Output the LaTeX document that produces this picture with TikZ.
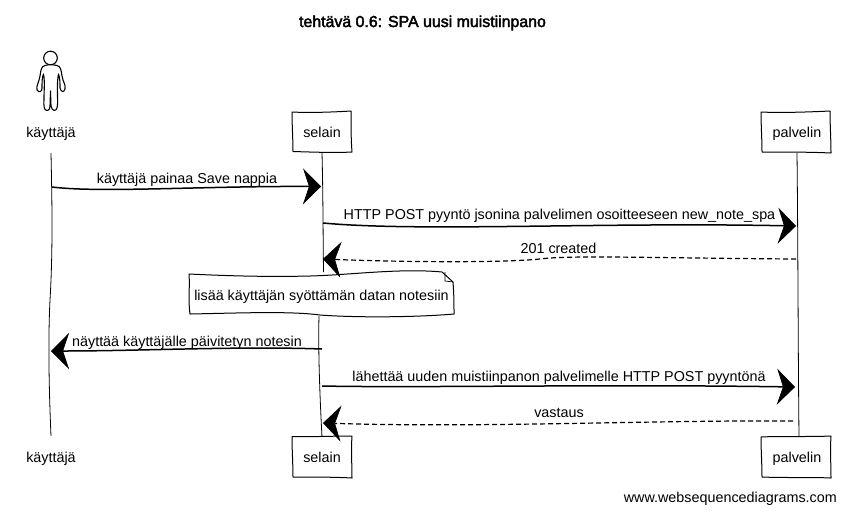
\documentclass[tikz,border=0pt]{standalone}
\usepackage{fontspec}
\setmainfont{Liberation Sans}
\newfontfamily\titlefont[FakeBold=2.5]{Liberation Sans}
\usetikzlibrary{arrows.meta}
\tikzset{
  x=1pt,y=-1pt,
  every node/.style={font=\fontsize{14.35}{16}\selectfont,inner sep=0pt,text=black},
  lbl/.style={anchor=base},
  life/.style={draw=black,line width=0.8pt},
  sketch/.style={draw=black,line width=1pt,fill=white,line join=round},
  msg/.style={draw=black,line width=1.5pt,-{Stealth[length=18pt,width=36pt,inset=6pt,line width=0.6pt]}},
  reply/.style={draw=black,line width=1.2pt,dash pattern=on 5pt off 3pt,-{Stealth[length=18pt,width=36pt,inset=6pt,line width=0.6pt]}},
  figure/.style={draw=black,line width=1.1pt,fill=white,line join=round}
}
\begin{document}
\begin{tikzpicture}
\useasboundingbox (0,0) rectangle (845,512);
% lifeline end points
\coordinate (uT) at (51,153);
\coordinate (uB) at (51,436);
\coordinate (sT) at (322,153);
\coordinate (sN) at (323.5,272);
\coordinate (sM) at (319,316);
\coordinate (sB) at (322,437);
\coordinate (pT) at (797,153);
\coordinate (pB) at (799,437);
\draw[life] (uT) .. controls (52,200) and (53,250) .. (50,300) .. controls (48,340) and (49,390) .. (uB);
\draw[life] (sT) .. controls (323,190) and (323,230) .. (sN);
\draw[life] (sM) .. controls (318,350) and (320,400) .. (sB);
\draw[life] (pT) .. controls (798,240) and (798,340) .. (pB);
% actor
\draw[figure] (50.5,58) circle (6.8);
\draw[figure] (45,65.5) .. controls (41,66.5) and (41,70) .. (40,76)
  .. controls (39,82) and (36,86) .. (37,90) .. controls (39,93) and (42,92) .. (42,88)
  .. controls (42,83) and (42,77) .. (43.5,74) .. controls (45,82) and (44,90) .. (44,98)
  .. controls (44,102) and (43.5,107) .. (45,109.5) .. controls (47,111.5) and (50,110.5) .. (50,106)
  -- (50.5,91) -- (51,106) .. controls (52,111.5) and (56,111.5) .. (57,108)
  .. controls (58,104) and (57.5,100) .. (57.5,96) .. controls (57.5,90) and (57,82) .. (58.5,74)
  .. controls (60,78) and (60,83) .. (60,88) .. controls (61,92) and (64,93) .. (65,89)
  .. controls (66,85) and (63,82) .. (62,76) .. controls (61,70) and (61,66.5) .. (57,65.5)
  .. controls (53,64.5) and (48,64.5) .. (45,65.5) -- cycle;
% boxes
\draw[sketch] (292,112) .. controls (310,113) and (335,112) .. (351,111) .. controls (351,125) and (351,140) .. (352,152) .. controls (335,153) and (310,152) .. (293,151.5) .. controls (293,140) and (292,125) .. (292,112) -- cycle;
\draw[sketch] (761,112) .. controls (780,113) and (810,112) .. (830,111) .. controls (830,125) and (831,140) .. (831,153) .. controls (810,152) and (785,152) .. (762,152) .. controls (762,140) and (761,125) .. (761,112) -- cycle;
\draw[sketch] (292,436.5) .. controls (310,437) and (335,436) .. (352,436) .. controls (351,450) and (352,465) .. (352,478) .. controls (335,477) and (310,477) .. (293,477) .. controls (293,465) and (292,450) .. (292,436.5) -- cycle;
\draw[sketch] (761,437) .. controls (780,436) and (810,437) .. (831,436) .. controls (830,450) and (831,465) .. (831,478) .. controls (810,477) and (785,478) .. (762,477) .. controls (762,465) and (761,450) .. (761,437) -- cycle;
% note
\draw[sketch] (189,274) .. controls (230,276) and (270,277) .. (310,276) .. controls (350,275) and (400,268) .. (442,272) -- (453,282)
  .. controls (454,295) and (454,305) .. (454,314) .. controls (420,317) and (360,318) .. (320,315) .. controls (290,311) and (240,313) .. (190,314) .. controls (188,300) and (190,288) .. (189,274) -- cycle;
\draw[draw=black,line width=0.7pt] (445,272) -- (445,281) -- (453,282);
% texts
\node[lbl,font=\fontsize{15.9}{18}\selectfont] (title) at (422.5,27) {\titlefont tehtävä 0.6: SPA uusi muistiinpano};
\node[lbl] (userTop) at (51,137) {käyttäjä};
\node[lbl] (selainTop) at (322,137) {selain};
\node[lbl] (palvelinTop) at (797,137) {palvelin};
\node[lbl] (userBot) at (51,462) {käyttäjä};
\node[lbl] (selainBot) at (322,462) {selain};
\node[lbl] (palvelinBot) at (797,462) {palvelin};
\node[lbl] (noteT) at (321.5,300) {lisää käyttäjän syöttämän datan notesiin};
\node[lbl] (t1) at (187,183) {käyttäjä painaa Save nappia};
\node[lbl] (t2) at (559.5,219) {HTTP POST pyyntö jsonina palvelimen osoitteeseen new\_note\_spa};
\node[lbl] (t3) at (558.5,253) {201 created};
\node[lbl] (t4) at (187,346) {näyttää käyttäjälle päivitetyn notesin};
\node[lbl] (t5) at (559,381) {lähettää uuden muistiinpanon palvelimelle HTTP POST pyyntönä};
\node[lbl] (t6) at (559,417) {vastaus};
\node[anchor=base east] (credit) at (837,502) {www.websequencediagrams.com};
% message end points
\coordinate (m1a) at (52,187); \coordinate (m1b) at (321,186.5);
\coordinate (m2a) at (323,223); \coordinate (m2b) at (796,226);
\coordinate (m3a) at (796,259); \coordinate (m3b) at (323,259);
\coordinate (m4a) at (322,349); \coordinate (m4b) at (51,351);
\coordinate (m5a) at (322,386); \coordinate (m5b) at (795,387);
\coordinate (m6a) at (793,421); \coordinate (m6b) at (323,423);
\draw[msg] (m1a) .. controls (100,193) and (200,186) .. (m1b);
\draw[msg] (m2a) .. controls (420,232) and (600,222) .. (m2b);
\draw[reply] (m3a) .. controls (650,258) and (570,255) .. (540,259) .. controls (500,263) and (400,262) .. (m3b);
\draw[msg] (m4a) .. controls (240,346) and (140,351) .. (m4b);
\draw[msg] (m5a) .. controls (420,388) and (600,384) .. (m5b);
\draw[reply] (m6a) .. controls (650,420) and (480,428) .. (m6b);
\end{tikzpicture}
\end{document}
